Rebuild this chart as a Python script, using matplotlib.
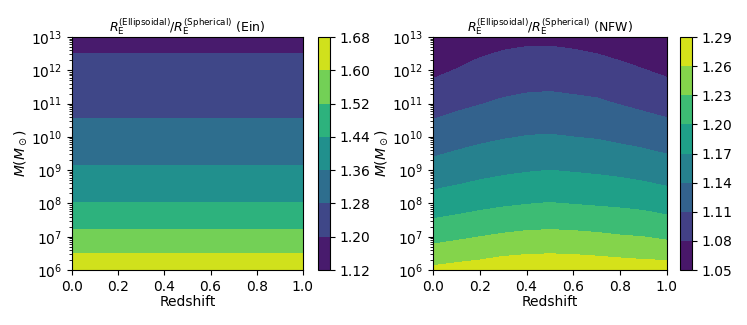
import numpy as np
import matplotlib
matplotlib.use('Agg')
import matplotlib.pyplot as plt

# ejes de la malla
redshift_ein = [0.0, 1.0]
redshift_nfw = [0.0, 0.1, 0.2, 0.3, 0.4, 0.5, 0.6, 0.7, 0.8, 0.9, 1.0]
log_masa = [6, 7, 8, 9, 10, 11, 12, 13]

# cociente Ein (solo depende de la masa)
ratio_ein = [1.660, 1.542, 1.443, 1.369, 1.311, 1.257, 1.221, 1.181]

# cociente NFW: una fila por masa, una columna por redshift
ratio_nfw = [
    [1.266, 1.270, 1.273, 1.278, 1.280, 1.281, 1.280, 1.278, 1.276, 1.274, 1.274],
    [1.220, 1.225, 1.230, 1.234, 1.237, 1.238, 1.237, 1.235, 1.232, 1.230, 1.225],
    [1.183, 1.187, 1.192, 1.196, 1.199, 1.201, 1.199, 1.197, 1.195, 1.192, 1.187],
    [1.151, 1.156, 1.161, 1.165, 1.168, 1.170, 1.168, 1.166, 1.163, 1.159, 1.154],
    [1.123, 1.129, 1.134, 1.138, 1.141, 1.142, 1.140, 1.138, 1.134, 1.130, 1.125],
    [1.098, 1.104, 1.109, 1.114, 1.117, 1.118, 1.116, 1.114, 1.109, 1.104, 1.099],
    [1.074, 1.081, 1.088, 1.092, 1.095, 1.096, 1.094, 1.091, 1.086, 1.081, 1.075],
    [1.053, 1.060, 1.067, 1.072, 1.074, 1.074, 1.072, 1.069, 1.065, 1.059, 1.053],
]

niveles_ein = [1.12, 1.20, 1.28, 1.36, 1.44, 1.52, 1.60, 1.68]
niveles_nfw = [1.05, 1.08, 1.11, 1.14, 1.17, 1.20, 1.23, 1.26, 1.29]

fig = plt.figure(figsize=(7.47, 3.25), dpi=100)
ax1 = fig.add_axes([0.0964, 0.169, 0.309, 0.717])
cax1 = fig.add_axes([0.4257, 0.169, 0.016, 0.717])
ax2 = fig.add_axes([0.5797, 0.169, 0.313, 0.717])
cax2 = fig.add_axes([0.910, 0.169, 0.016, 0.717])

z_ein = np.array(redshift_ein)
r_ein = np.column_stack([ratio_ein, ratio_ein])
cs1 = ax1.contourf(z_ein, log_masa, r_ein, levels=niveles_ein, cmap='viridis')
cs2 = ax2.contourf(redshift_nfw, log_masa, np.array(ratio_nfw), levels=niveles_nfw, cmap='viridis')

titulo = r'$R_\mathrm{E}^{(\mathrm{Ellipsoidal})}/R_\mathrm{E}^{(\mathrm{Spherical})}$'
ax1.set_title(titulo + ' (Ein)', fontsize=9, pad=3)
ax2.set_title(titulo + ' (NFW)', fontsize=9, pad=3)

# ticks logaritmicos a mano (la malla esta en log10 M)
menores = [np.log10(k) + n for n in range(6, 13) for k in range(2, 10)]
for ax in (ax1, ax2):
    ax.set_xlim(0, 1)
    ax.set_ylim(6, 13)
    ax.set_xticks([0.0, 0.2, 0.4, 0.6, 0.8, 1.0])
    ax.set_yticks(log_masa)
    ax.set_yticklabels([r'$10^{%d}$' % n for n in log_masa])
    ax.set_yticks(menores, minor=True)
    ax.tick_params(labelsize=10)
    ax.set_xlabel('Redshift', fontsize=10, labelpad=1)
    ax.set_ylabel(r'$M(M_\odot)$', fontsize=10, labelpad=1)

cb1 = fig.colorbar(cs1, cax=cax1, ticks=niveles_ein, format='%.2f')
cb2 = fig.colorbar(cs2, cax=cax2, ticks=niveles_nfw, format='%.2f')
for cb in (cb1, cb2):
    cb.ax.tick_params(labelsize=10)

plt.savefig('out.png', dpi=100)
